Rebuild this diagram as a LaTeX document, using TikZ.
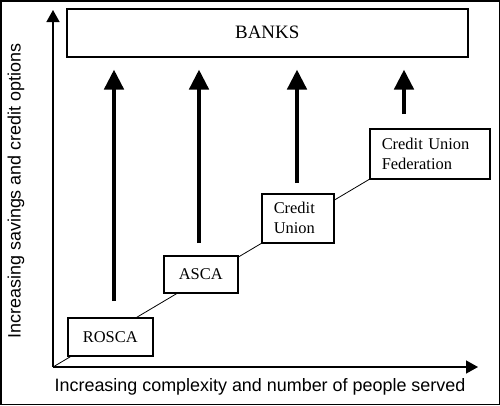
\documentclass[tikz,border=0pt]{standalone}
\usepackage{fontspec}
\setmainfont{Liberation Serif}
\setsansfont{Liberation Sans}
\usetikzlibrary{arrows.meta, positioning}

\begin{document}
\begin{tikzpicture}[x=1bp,y=-1bp,
    box/.style={rectangle,draw,fill=white,line width=1.5bp,anchor=north west,inner sep=0pt,
                font=\fontsize{16.5}{20}\selectfont},
    note/.style={box,inner xsep=12bp,align=left},
    axis/.style={line width=1.5bp,-{Triangle[width=13bp,length=12bp]}},
    up/.style={line width=4.5bp,-{Triangle[width=19bp,length=20bp]},shorten >=12bp},
    axlabel/.style={font=\sffamily\fontsize{18}{20}\selectfont}]
    \useasboundingbox (0,0) rectangle (500,405);
    \draw[line width=1.5bp] (0.75,0.75) rectangle (499.25,404.25);
    % axes
    \coordinate (origin) at (53,367);
    \coordinate (yend) at (53,10);
    \coordinate (xend) at (478,367);
    \draw[axis] (origin) -- (yend);
    \draw[axis] (origin) -- (xend);
    \node[axlabel] (xlab) at (260,387) {Increasing complexity and number of people served};
    \node[axlabel,rotate=90] (ylab) at (16,191) {Increasing savings and credit options};
    % boxes
    \node[box,minimum width=401bp,minimum height=48bp,font=\fontsize{19}{20}\selectfont] (banks) at (66,8) {BANKS};
    \node[note,text width=96bp,minimum height=50bp] (fed) at (369,128) {Credit Union\\Federation};
    \draw[line width=0.8bp] (origin) -- (fed.south west);
    \node[box,minimum width=85bp,minimum height=38bp] (rosca) at (67,317) {ROSCA};
    \node[box,minimum width=74bp,minimum height=37bp] (asca) at (163,255) {ASCA};
    \node[note,text width=48bp,minimum height=49bp] (cu) at (261,193) {Credit\\Union};
    % arrows to the banks
    \coordinate (a1) at (114,301);
    \coordinate (a2) at (199,243);
    \coordinate (a3) at (297,183);
    \coordinate (a4) at (404,114);
    \foreach \a in {a1,a2,a3,a4}
        \draw[up] (\a) -- (\a |- banks.south);
\end{tikzpicture}
\end{document}
